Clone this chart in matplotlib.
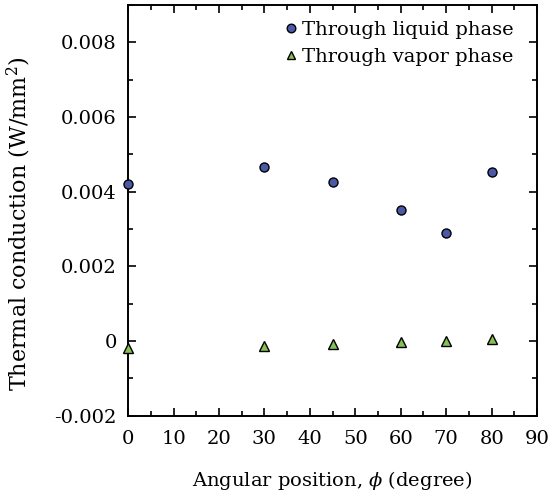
import matplotlib
matplotlib.use("Agg")
import matplotlib.pyplot as plt
from matplotlib.ticker import MultipleLocator, FuncFormatter

angles = [0, 30, 45, 60, 70, 80]
liquid = [0.00422, 0.00467, 0.00427, 0.00352, 0.00290, 0.00454]
vapor = [-0.00019, -0.00013, -0.00007, -0.00003, 0.00000, 0.00006]

plt.rcParams['font.family'] = ['DejaVu Serif']
plt.rcParams['mathtext.fontset'] = 'dejavuserif'

fig = plt.figure(figsize=(5.52, 4.98), dpi=100)
ax = fig.add_axes([0.232, 0.165, 0.741, 0.825])

ax.plot(angles, liquid, 'o', ms=6.5, mfc='#4a5aa8', mec='black', mew=1.0,
        linestyle='none', label='Through liquid phase', clip_on=False, zorder=3)
ax.plot(angles, vapor, '^', ms=6.5, mfc='#84c055', mec='black', mew=1.0,
        linestyle='none', label='Through vapor phase', clip_on=False, zorder=3)

ax.set_xlim(0, 90)
ax.set_ylim(-0.002, 0.009)
ax.xaxis.set_major_locator(MultipleLocator(10))
ax.xaxis.set_minor_locator(MultipleLocator(5))
ax.yaxis.set_major_locator(MultipleLocator(0.002))
ax.yaxis.set_minor_locator(MultipleLocator(0.001))

def yfmt(v, pos):
    if abs(v) < 1e-12:
        return '0'
    return '%.3f' % v
ax.yaxis.set_major_formatter(FuncFormatter(yfmt))

ax.tick_params(which='both', direction='in', top=True, right=True, width=1.2,
               labelsize=14)
ax.tick_params(axis='y', which='major', pad=8)
ax.tick_params(axis='x', which='major', pad=10)
ax.tick_params(which='major', length=6)
ax.tick_params(which='minor', length=3.5)
for s in ax.spines.values():
    s.set_linewidth(1.4)

ax.set_xlabel(r'Angular position, $\phi$ (degree)', fontsize=14)
ax.set_ylabel(r'Thermal conduction (W/mm$^2$)', fontsize=16)
ax.xaxis.set_label_coords(0.5, -0.13)
ax.yaxis.set_label_coords(-0.232, 0.467)

ax.legend(loc='upper right', frameon=False, fontsize=14, handletextpad=0.05,
          borderaxespad=0.2, handlelength=1.0, labelspacing=0.45, borderpad=0.4,
          markerscale=0.95, bbox_to_anchor=(0.97, 0.99))

fig.savefig('out.png', dpi=100)
